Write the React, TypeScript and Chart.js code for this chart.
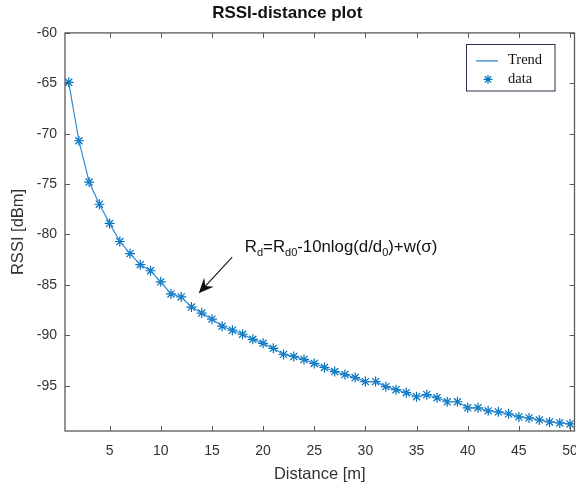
import React, { useEffect, useRef } from "react";
import { Chart, registerables } from "chart.js";

Chart.register(...registerables);

const distances = [
  1, 2, 3, 4, 5, 6, 7, 8, 9, 10, 11, 12, 13, 14, 15, 16, 17, 18, 19, 20, 21, 22, 23, 24, 25,
  26, 27, 28, 29, 30, 31, 32, 33, 34, 35, 36, 37, 38, 39, 40, 41, 42, 43, 44, 45, 46, 47, 48, 49, 50,
];
const rssi = [
  -64.9, -70.7, -74.8, -77.0, -78.9, -80.7, -81.9, -83.0, -83.6, -84.7,
  -85.9, -86.2, -87.2, -87.8, -88.4, -89.1, -89.5, -89.9, -90.4, -90.8,
  -91.3, -91.9, -92.1, -92.4, -92.8, -93.2, -93.6, -93.9, -94.2, -94.6,
  -94.6, -95.1, -95.4, -95.7, -96.1, -95.9, -96.2, -96.6, -96.6, -97.2,
  -97.2, -97.5, -97.6, -97.8, -98.1, -98.2, -98.4, -98.6, -98.7, -98.8,
];
const xTicks = [5, 10, 15, 20, 25, 30, 35, 40, 45, 50];
const yTicks = [-95, -90, -85, -80, -75, -70, -65, -60];
const titleText = "RSSI-distance plot";
const xLabel = "Distance [m]";
const yLabel = "RSSI [dBm]";
const legendLabels = ["Trend", "data"];
const annotationParts = [
  { t: "R", sub: false },
  { t: "d", sub: true },
  { t: "=R", sub: false },
  { t: "d0", sub: true },
  { t: "-10nlog(d/d", sub: false },
  { t: "0", sub: true },
  { t: ")+w(\u03C3)", sub: false },
];

const CW = 600;
const CH = 485;
const LINE_COLOR = "#2e8bd6";
const MARK_COLOR = "#0072BD";
const AXIS_COLOR = "#5a5a5a";
const TEXT_COLOR = "#333333";
const SANS = "'Liberation Sans', Arial, Helvetica, sans-serif";
const SERIF = "'Liberation Serif', 'Times New Roman', serif";

const decorPlugin = {
  id: "decor",
  afterDraw(chart: any) {
    const ctx = chart.ctx as CanvasRenderingContext2D;
    const { left, right, top, bottom } = chart.chartArea;
    const xs = chart.scales.x;
    const ys = chart.scales.y;
    ctx.save();
    // frame
    ctx.strokeStyle = AXIS_COLOR;
    ctx.lineWidth = 1.3;
    ctx.strokeRect(left, top, right - left, bottom - top);
    // inward ticks
    ctx.lineWidth = 1;
    const tl = 5;
    ctx.beginPath();
    xTicks.forEach((v) => {
      const px = Math.round(xs.getPixelForValue(v)) + 0.5;
      ctx.moveTo(px, bottom);
      ctx.lineTo(px, bottom - tl);
      ctx.moveTo(px, top);
      ctx.lineTo(px, top + tl);
    });
    yTicks.forEach((v) => {
      const py = Math.round(ys.getPixelForValue(v)) + 0.5;
      ctx.moveTo(left, py);
      ctx.lineTo(left + tl, py);
      ctx.moveTo(right, py);
      ctx.lineTo(right - tl, py);
    });
    ctx.stroke();

    // annotation arrow
    const ax0 = xs.getPixelForValue(16.98);
    const ay0 = ys.getPixelForValue(-82.26);
    const ax1 = xs.getPixelForValue(13.71);
    const ay1 = ys.getPixelForValue(-85.83);
    const ang = Math.atan2(ay1 - ay0, ax1 - ax0);
    const hl = 15;
    const hw = 6.5;
    const bx = ax1 - Math.cos(ang) * hl;
    const by = ay1 - Math.sin(ang) * hl;
    const nx = ax1 - Math.cos(ang) * hl * 0.65;
    const ny = ay1 - Math.sin(ang) * hl * 0.65;
    ctx.strokeStyle = "#111";
    ctx.lineWidth = 1.1;
    ctx.beginPath();
    ctx.moveTo(ax0, ay0);
    ctx.lineTo(nx, ny);
    ctx.stroke();
    ctx.fillStyle = "#111";
    ctx.beginPath();
    ctx.moveTo(ax1, ay1);
    ctx.lineTo(bx + Math.sin(ang) * hw, by - Math.cos(ang) * hw);
    ctx.lineTo(nx, ny);
    ctx.lineTo(bx - Math.sin(ang) * hw, by + Math.cos(ang) * hw);
    ctx.closePath();
    ctx.fill();

    // annotation text
    let tx = xs.getPixelForValue(18.22);
    const ty = ys.getPixelForValue(-81.7);
    ctx.fillStyle = "#111";
    ctx.textBaseline = "alphabetic";
    ctx.textAlign = "left";
    annotationParts.forEach((p) => {
      ctx.font = p.sub ? `11px ${SANS}` : `16.8px ${SANS}`;
      ctx.fillText(p.t, tx, p.sub ? ty + 4 : ty);
      tx += ctx.measureText(p.t).width;
    });

    // legend
    const lx = right - 108.5;
    const ly = top + 11.5;
    const lw = 88.5;
    const lh = 46.5;
    ctx.fillStyle = "#ffffff";
    ctx.fillRect(lx, ly, lw, lh);
    ctx.strokeStyle = "#27304a";
    ctx.lineWidth = 1;
    ctx.strokeRect(Math.round(lx) + 0.5, Math.round(ly) + 0.5, lw, lh);
    ctx.strokeStyle = LINE_COLOR;
    ctx.lineWidth = 1.3;
    ctx.beginPath();
    ctx.moveTo(lx + 10, ly + 16.5);
    ctx.lineTo(lx + 32, ly + 16.5);
    ctx.stroke();
    // star marker
    const sx = lx + 22;
    const sy = ly + 35;
    const r = 4.5;
    ctx.strokeStyle = MARK_COLOR;
    ctx.lineWidth = 1.2;
    ctx.beginPath();
    for (let i = 0; i < 4; i++) {
      const a = (i * Math.PI) / 4;
      ctx.moveTo(sx + Math.cos(a) * r, sy + Math.sin(a) * r);
      ctx.lineTo(sx - Math.cos(a) * r, sy - Math.sin(a) * r);
    }
    ctx.stroke();
    ctx.fillStyle = "#111";
    ctx.font = `14.5px ${SERIF}`;
    ctx.textBaseline = "middle";
    ctx.fillText(legendLabels[0], lx + 42, ly + 16);
    ctx.fillText(legendLabels[1], lx + 42, ly + 35);
    ctx.restore();
  },
};

export default function App() {
  const ref = useRef<HTMLCanvasElement | null>(null);

  useEffect(() => {
    if (!ref.current) return;
    const points = distances.map((d, i) => ({ x: d, y: rssi[i] }));
    const chart = new Chart(ref.current, {
      type: "scatter",
      data: {
        datasets: [
          {
            label: legendLabels[0],
            data: points,
            showLine: true,
            borderColor: LINE_COLOR,
            borderWidth: 1.2,
            pointRadius: 0,
            fill: false,
          },
          {
            label: legendLabels[1],
            data: points,
            showLine: false,
            pointStyle: "star",
            pointRadius: 5,
            borderColor: MARK_COLOR,
            backgroundColor: MARK_COLOR,
            pointBorderWidth: 1.2,
          },
        ],
      },
      options: {
        responsive: false,
        animation: false,
        devicePixelRatio: 1,
        layout: { padding: { left: 0, right: CW - 574.5, top: 0, bottom: 0 } },
        plugins: {
          legend: { display: false },
          tooltip: { enabled: false },
          title: {
            display: true,
            text: titleText,
            color: "#111",
            font: { family: SANS, size: 17, weight: "bold", lineHeight: 1.2 },
            padding: { top: 3.5, bottom: 9 },
          },
        },
        scales: {
          x: {
            type: "linear",
            min: 0.64,
            max: 50.44,
            afterBuildTicks: (s: any) => {
              s.ticks = xTicks.map((v) => ({ value: v }));
            },
            afterFit: (s: any) => {
              s.height = 54;
            },
            grid: { display: false, drawTicks: false },
            border: { display: false },
            ticks: {
              color: TEXT_COLOR,
              font: { family: SANS, size: 14 },
              padding: 12,
              maxRotation: 0,
              autoSkip: false,
            },
            title: {
              display: true,
              text: xLabel,
              color: TEXT_COLOR,
              font: { family: SANS, size: 16.5, lineHeight: 1.1 },
              padding: { top: 0, bottom: 1 },
            },
          },
          y: {
            type: "linear",
            min: -99.5,
            max: -60,
            afterBuildTicks: (s: any) => {
              s.ticks = yTicks.map((v) => ({ value: v }));
            },
            afterFit: (s: any) => {
              s.width = 65;
            },
            grid: { display: false, drawTicks: false },
            border: { display: false },
            ticks: {
              color: TEXT_COLOR,
              font: { family: SANS, size: 14 },
              padding: 8,
              autoSkip: false,
            },
            title: {
              display: true,
              text: yLabel,
              color: TEXT_COLOR,
              font: { family: SANS, size: 16.5, lineHeight: 1.2 },
              padding: { top: 9, bottom: 0 },
            },
          },
        },
      },
      plugins: [decorPlugin],
    });
    return () => chart.destroy();
  }, []);

  return (
    <div
      style={{
        position: "absolute",
        left: 0,
        top: 0,
        width: 576,
        height: 485,
        overflow: "hidden",
        background: "#ffffff",
      }}
    >
      <canvas ref={ref} width={CW} height={CH} style={{ width: CW, height: CH, display: "block" }} />
    </div>
  );
}
